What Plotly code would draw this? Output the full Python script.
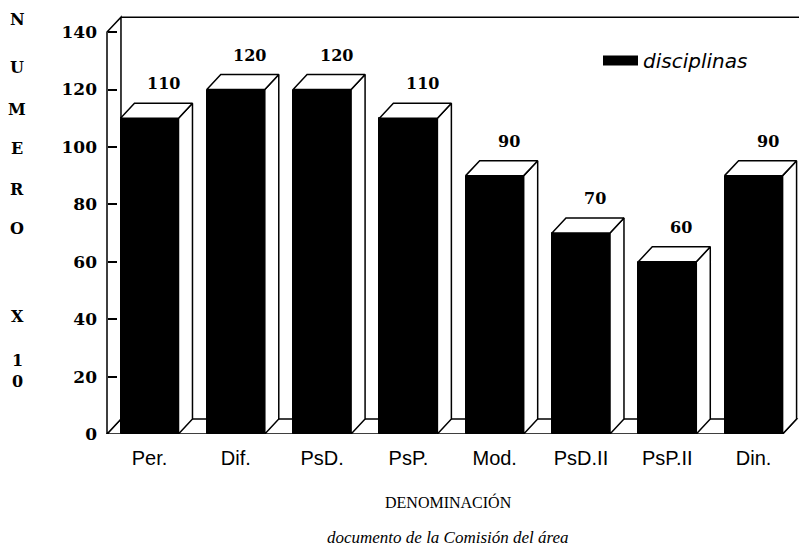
import plotly.graph_objects as go

# ---------------- data ----------------
categories = ["Per.", "Dif.", "PsD.", "PsP.", "Mod.", "PsD.II", "PsP.II", "Din."]
values = [110, 120, 120, 110, 90, 70, 60, 90]
y_ticks = [0, 20, 40, 60, 80, 100, 120, 140]
series_name = "disciplinas"
y_title_letters = ["N", "U", "M", "E", "R", "O", "X", "1", "0"]
x_title = "DENOMINACIÓN"
caption = "documento de la Comisión del área"

# ---------------- geometry / style ----------------
OFF = 8                      # page body margin of the browser
REF_W, REF_H = 807, 549
W, H = REF_W - OFF, REF_H - OFF
PLOT_L, PLOT_R, PLOT_T, PLOT_B = 90, 807, 14, 434   # reference pixels
ML, MR, MT, MB = PLOT_L - OFF, REF_W - PLOT_R, PLOT_T - OFF, REF_H - PLOT_B
PX_PER_CAT = 86.3
FIRST_CENTER_PX = 149.5
AXIS_PX = 107
YMAX_RANGE = 146.3
BAR_W = 0.672
DX = 0.162      # depth offset (category units)
DY = 5.2        # depth offset (value units)
YTOP = 140

plot_w = PLOT_R - PLOT_L
plot_h = PLOT_B - PLOT_T
x_lo = (PLOT_L - FIRST_CENTER_PX) / PX_PER_CAT
x_hi = (PLOT_R - FIRST_CENTER_PX) / PX_PER_CAT
x0 = (AXIS_PX - FIRST_CENTER_PX) / PX_PER_CAT
axis_pos = (AXIS_PX - PLOT_L) / plot_w


def px_x(p):
    return (p - PLOT_L) / plot_w


def px_y(p):
    return (PLOT_B - p) / plot_h


xs = list(range(len(categories)))
LW = 1.5

fig = go.Figure()

# front faces (black bars)
fig.add_trace(go.Bar(
    x=xs, y=values, width=BAR_W,
    marker=dict(color="black", line=dict(color="black", width=1)),
    showlegend=False, hoverinfo="skip",
))

# side and top faces (white with outlines), derived from values
for x, v in zip(xs, values):
    xl, xr = x - BAR_W / 2, x + BAR_W / 2
    fig.add_trace(go.Scatter(
        x=[xr, xr, xr + DX, xr + DX, xr], y=[0, v, v + DY, DY, 0],
        mode="lines", fill="toself", fillcolor="white",
        line=dict(color="black", width=LW), showlegend=False, hoverinfo="skip",
    ))
    fig.add_trace(go.Scatter(
        x=[xl, xr, xr + DX, xl + DX, xl], y=[v, v, v + DY, v + DY, v],
        mode="lines", fill="toself", fillcolor="white",
        line=dict(color="black", width=LW), showlegend=False, hoverinfo="skip",
    ))

# legend entry
fig.add_trace(go.Scatter(
    x=[None], y=[None], mode="lines", name=series_name,
    line=dict(color="black", width=10),
))

# value labels
annotations = []
for x, v in zip(xs, values):
    annotations.append(dict(
        x=x + DX, y=v + DY, xref="x", yref="y", text=str(v),
        showarrow=False, yanchor="bottom", yshift=8,
        font=dict(family="DejaVu Serif", size=16, color="black", weight="bold"),
    ))

# stacked vertical y title letters
letter_px = [20, 67, 110, 148, 190, 228, 316, 360, 381]
for ch, py in zip(y_title_letters, letter_px):
    annotations.append(dict(
        x=px_x(17), y=px_y(py), xref="paper", yref="paper", text=ch,
        showarrow=False, xanchor="center", yanchor="middle",
        font=dict(family="DejaVu Serif", size=16, color="black", weight="bold"),
    ))

# x title and caption
annotations.append(dict(
    x=px_x(448), y=px_y(502), xref="paper", yref="paper", text=x_title,
    showarrow=False, xanchor="center", yanchor="middle",
    font=dict(family="Liberation Serif", size=16, color="black"),
))
annotations.append(dict(
    x=px_x(448), y=px_y(537), xref="paper", yref="paper", text=caption,
    showarrow=False, xanchor="center", yanchor="middle",
    font=dict(family="Liberation Serif", size=17, color="black", style="italic"),
))

# frame: left wall, floor, back wall top
xe = xs[-1] + BAR_W / 2
shapes = [
    dict(type="path", xref="x", yref="y", layer="below",
         path=f"M {x0},0 L {xe},0 L {xe + DX},{DY} L {x0 + DX},{DY} Z",
         fillcolor="white", line=dict(color="black", width=LW)),
    dict(type="path", xref="x", yref="y", layer="below",
         path=f"M {x0},0 L {x0},{YTOP} L {x0 + DX},{YTOP + DY} L {x0 + DX},{DY} Z",
         fillcolor="white", line=dict(color="black", width=LW)),
    dict(type="line", xref="x", yref="y", layer="below",
         x0=x0 + DX, y0=YTOP + DY, x1=x_hi, y1=YTOP + DY,
         line=dict(color="black", width=LW)),
]

fig.update_layout(
    width=W, height=H,
    margin=dict(l=ML, r=MR, t=MT, b=MB, pad=0),
    paper_bgcolor="white", plot_bgcolor="white",
    showlegend=True,
    legend=dict(x=px_x(598), y=px_y(41),
                xanchor="left", yanchor="top", bgcolor="rgba(0,0,0,0)",
                font=dict(family="DejaVu Sans", size=20, color="black", style="italic"),
                itemwidth=35),
    xaxis=dict(range=[x_lo, x_hi], tickvals=xs, ticktext=categories,
               showgrid=False, zeroline=False, showline=False, ticks="",
               ticklabelstandoff=10,
               tickfont=dict(family="Liberation Sans", size=20, color="black")),
    yaxis=dict(range=[0, YMAX_RANGE], tickvals=y_ticks, anchor="free", position=axis_pos,
               showgrid=False, zeroline=False, showline=False,
               ticks="inside", ticklen=9, tickwidth=LW, tickcolor="black",
               ticklabelstandoff=10,
               tickfont=dict(family="DejaVu Serif", size=17, color="black", weight="bold")),
    bargap=0,
    annotations=annotations,
    shapes=shapes,
)

fig.write_html("out.html")
